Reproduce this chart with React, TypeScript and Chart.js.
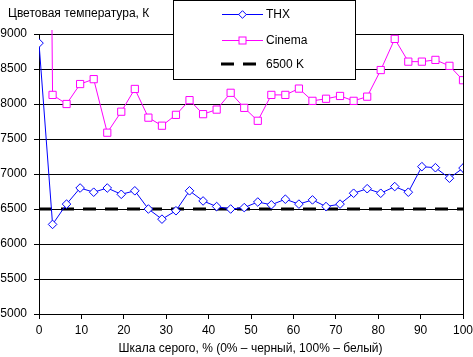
import React, { useEffect, useRef } from "react";
import { Chart, registerables } from "chart.js";

Chart.register(...registerables);

const grayLevels = [0, 3.2, 6.5, 9.7, 12.9, 16.1, 19.4, 22.6, 25.8, 29.0, 32.3, 35.5, 38.7, 41.9, 45.2, 48.4, 51.6, 54.8, 58.1, 61.3, 64.5, 67.7, 71.0, 74.2, 77.4, 80.6, 83.9, 87.1, 90.3, 93.5, 96.8, 100];
const thxValues = [8870, 6280, 6570, 6800, 6740, 6800, 6710, 6760, 6500, 6355, 6475, 6760, 6615, 6535, 6500, 6520, 6600, 6560, 6640, 6570, 6630, 6535, 6570, 6725, 6790, 6725, 6820, 6740, 7105, 7090, 6940, 7085];
const cinemaValues = [30000, 8130, 8000, 8285, 8355, 7590, 7890, 8215, 7805, 7690, 7845, 8055, 7855, 7920, 8160, 7945, 7760, 8130, 8130, 8220, 8045, 8075, 8115, 8045, 8105, 8485, 8930, 8605, 8605, 8630, 8545, 8340];
const referenceX = [0, 100];
const referenceValue = 6500;
const yTicksMin = 5000;
const yTicksMax = 9000;
const yStep = 500;
const xStep = 10;
const seriesNames = ["THX", "Cinema", "6500 K"];
const yTitle = "Цветовая температура, К";
const xTitle = "Шкала серого, % (0% – черный, 100% – белый)";

const FONT = '"Liberation Sans", Arial, sans-serif';
const BLUE = "#0000FF";
const MAGENTA = "#FF00FF";

export default function App() {
  const ref = useRef<HTMLCanvasElement | null>(null);

  useEffect(() => {
    document.body.style.margin = "0";
    const canvas = ref.current;
    if (!canvas) return;

    const framePlugin = {
      id: "frame",
      afterDatasetsDraw(chart: any) {
        const ctx = chart.ctx;
        const a = chart.chartArea;
        ctx.save();
        ctx.strokeStyle = "#000";
        ctx.lineWidth = 1;
        ctx.beginPath();
        ctx.moveTo(Math.round(a.right) + 0.5, Math.round(a.top) + 0.5);
        ctx.lineTo(Math.round(a.right) + 0.5, Math.round(a.bottom) + 0.5);
        ctx.stroke();

        // titles
        ctx.fillStyle = "#000";
        ctx.font = `12px ${FONT}`;
        ctx.textBaseline = "middle";
        ctx.textAlign = "left";
        ctx.fillText(yTitle, 8, 14);
        ctx.textAlign = "center";
        ctx.fillText(xTitle, 250.5, 349);
        ctx.textAlign = "left";

        // legend box
        const bx = 173.5, by = 0.5, bw = 182, bh = 79;
        ctx.fillStyle = "#fff";
        ctx.fillRect(bx, by, bw, bh);
        ctx.strokeStyle = "#000";
        ctx.strokeRect(bx, by, bw, bh);

        const rows = [14, 40, 64];
        const x1 = 222, x2 = 263, mx = 242.5, tx = 266;
        // THX
        ctx.strokeStyle = BLUE;
        ctx.lineWidth = 1;
        ctx.beginPath();
        ctx.moveTo(x1, rows[0] + 0.5);
        ctx.lineTo(x2, rows[0] + 0.5);
        ctx.stroke();
        ctx.fillStyle = "#fff";
        ctx.beginPath();
        ctx.moveTo(mx, rows[0] + 0.5 - 3.8);
        ctx.lineTo(mx + 3.8, rows[0] + 0.5);
        ctx.lineTo(mx, rows[0] + 0.5 + 3.8);
        ctx.lineTo(mx - 3.8, rows[0] + 0.5);
        ctx.closePath();
        ctx.fill();
        ctx.stroke();
        // Cinema
        ctx.strokeStyle = MAGENTA;
        ctx.beginPath();
        ctx.moveTo(x1, rows[1] + 0.5);
        ctx.lineTo(x2, rows[1] + 0.5);
        ctx.stroke();
        ctx.fillStyle = "#fff";
        ctx.fillRect(mx - 3.5, rows[1] - 3, 7, 7);
        ctx.strokeRect(mx - 3.5, rows[1] - 3, 7, 7);
        // 6500
        ctx.strokeStyle = "#000";
        ctx.lineWidth = 3;
        ctx.setLineDash([13, 9]);
        ctx.beginPath();
        ctx.moveTo(221, rows[2]);
        ctx.lineTo(257, rows[2]);
        ctx.stroke();
        ctx.setLineDash([]);

        ctx.fillStyle = "#000";
        ctx.font = `12px ${FONT}`;
        ctx.textBaseline = "middle";
        rows.forEach((r, i) => ctx.fillText(seriesNames[i], tx, r + 0.5));
        ctx.restore();
      },
    };

    const chart = new Chart(canvas, {
      type: "line",
      data: {
        datasets: [
          {
            label: seriesNames[0],
            data: grayLevels.map((x, i) => ({ x, y: thxValues[i] })),
            borderColor: BLUE,
            backgroundColor: "#fff",
            borderWidth: 1,
            pointStyle: "rectRot",
            pointRadius: 4.3,
            pointBorderColor: BLUE,
            pointBackgroundColor: "#fff",
            pointBorderWidth: 1,
            tension: 0,
            clip: { left: 0, top: 4, right: 0, bottom: 0 } as any,
          },
          {
            label: seriesNames[1],
            data: grayLevels.map((x, i) => ({ x, y: cinemaValues[i] })),
            borderColor: MAGENTA,
            backgroundColor: "#fff",
            borderWidth: 1,
            pointStyle: "rect",
            pointRadius: 5.1,
            pointBorderColor: MAGENTA,
            pointBackgroundColor: "#fff",
            pointBorderWidth: 1,
            tension: 0,
            clip: { left: 0, top: 4, right: 0, bottom: 0 } as any,
          },
          {
            label: seriesNames[2],
            data: referenceX.map((x) => ({ x, y: referenceValue })),
            borderColor: "#000",
            borderWidth: 3,
            borderDash: [13, 9],
            pointRadius: 0,
            tension: 0,
          },
        ],
      },
      options: {
        animation: false,
        responsive: false,
        maintainAspectRatio: false,
        font: { family: FONT, size: 12 } as any,
        layout: { padding: { left: 0, right: 10, top: 34, bottom: 0 } },
        plugins: {
          legend: { display: false },
          title: { display: false },
          tooltip: { enabled: false },
        },
        scales: {
          x: {
            type: "linear",
            min: 0,
            max: 100,
            afterFit: (s: any) => {
              s.height = 43;
              s.paddingRight = 0;
              s.paddingLeft = 0;
            },
            ticks: {
              stepSize: xStep,
              color: "#000",
              font: { family: FONT, size: 12 },
              padding: 4,
              maxRotation: 0,
              autoSkip: false,
              callback: (v: any) => String(v),
            },
            grid: {
              drawOnChartArea: false,
              drawTicks: true,
              tickLength: 5,
              color: "#000",
            },
            border: { display: true, color: "#000", width: 1 },
            title: { display: false },
          },
          y: {
            type: "linear",
            min: yTicksMin,
            max: yTicksMax,
            afterFit: (s: any) => {
              s.width = 39;
              s.paddingTop = 0;
              s.paddingBottom = 0;
            },
            ticks: {
              stepSize: yStep,
              color: "#000",
              font: { family: FONT, size: 12 },
              padding: 7,
              autoSkip: false,
              callback: (v: any) => String(v),
            },
            grid: {
              color: "#000",
              drawTicks: true,
              tickLength: 5,
            },
            border: { display: true, color: "#000", width: 1 },
          },
        },
      },
      plugins: [framePlugin],
    });

    return () => chart.destroy();
  }, []);

  return (
    <div style={{ width: 473, height: 357 }}>
      <canvas ref={ref} width={473} height={357} style={{ display: "block" }} />
    </div>
  );
}
